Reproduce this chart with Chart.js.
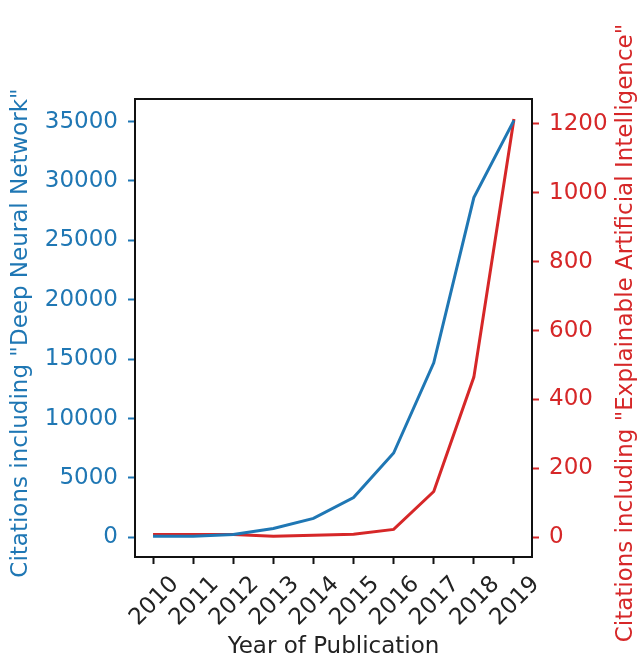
<!DOCTYPE html>
<html>
<head>
<meta charset="utf-8">
<script src="https://cdn.jsdelivr.net/npm/chart.js@4"></script>
<style>
  html, body { margin: 0; padding: 0; background: #fff; }
  #wrap { width: 639px; height: 663px; }
</style>
</head>
<body>
<div id="wrap"><canvas id="grafico"></canvas></div>
<script>
// dados
const years = [2010, 2011, 2012, 2013, 2014, 2015, 2016, 2017, 2018, 2019];
const dnnCitations = [100, 100, 250, 750, 1600, 3350, 7100, 14700, 28600, 35100];
const xaiCitations = [8, 8, 8, 3, 6, 9, 23, 133, 465, 1214];
const leftTicks = [0, 5000, 10000, 15000, 20000, 25000, 30000, 35000];
const rightTicks = [0, 200, 400, 600, 800, 1000, 1200];

const azul = '#1f77b4';
const vermelho = '#d62728';
const fonte = 'DejaVu Sans';
const tam = 23;

// moldura e titulos dos eixos y
const moldura = {
  id: 'moldura',
  afterDraw(chart) {
    const ctx = chart.ctx;
    const a = chart.chartArea;
    ctx.save();
    ctx.strokeStyle = '#111';
    ctx.lineWidth = 2;
    ctx.strokeRect(a.left, a.top, a.right - a.left, a.bottom - a.top);

    ctx.font = tam + 'px "' + fonte + '"';
    ctx.textAlign = 'center';
    ctx.textBaseline = 'middle';
    var meio = (a.top + a.bottom) / 2 + 5;

    ctx.fillStyle = azul;
    ctx.translate(21, meio);
    ctx.rotate(-Math.PI / 2);
    ctx.fillText('Citations including "Deep Neural Network"', 0, 0);
    ctx.restore();

    ctx.save();
    ctx.font = tam + 'px "' + fonte + '"';
    ctx.textAlign = 'center';
    ctx.textBaseline = 'middle';
    ctx.fillStyle = vermelho;
    ctx.translate(626, meio);
    ctx.rotate(-Math.PI / 2);
    ctx.fillText('Citations including "Explainable Artificial Intelligence"', 0, 0);
    ctx.restore();
  }
};

const ctx = document.getElementById('grafico');

new Chart(ctx, {
  type: 'line',
  data: {
    datasets: [{
      label: 'Deep Neural Network',
      data: years.map((y, i) => ({ x: y, y: dnnCitations[i] })),
      borderColor: azul,
      borderWidth: 3,
      pointRadius: 0,
      tension: 0,
      yAxisID: 'y'
    }, {
      label: 'Explainable Artificial Intelligence',
      data: years.map((y, i) => ({ x: y, y: xaiCitations[i] })),
      borderColor: vermelho,
      borderWidth: 3,
      pointRadius: 0,
      tension: 0,
      yAxisID: 'y2'
    }]
  },
  options: {
    responsive: true,
    maintainAspectRatio: false,
    animation: false,
    layout: { padding: { top: 99, left: 0, right: 0, bottom: 0 } },
    plugins: { legend: { display: false }, tooltip: { enabled: false } },
    scales: {
      x: {
        type: 'linear',
        min: 2009.55,
        max: 2019.45,
        afterBuildTicks: s => { s.ticks = years.map(v => ({ value: v })); },
        afterFit: s => { s.height = 106; },
        grid: { drawOnChartArea: false, tickLength: 7, tickWidth: 2, tickColor: '#111' },
        border: { display: false },
        ticks: {
          minRotation: 45,
          maxRotation: 45,
          labelOffset: 22,
          padding: 7,
          color: '#222',
          font: { family: fonte, size: tam },
          callback: v => String(v)
        },
        title: {
          display: true,
          text: 'Year of Publication',
          color: '#222',
          font: { family: fonte, size: tam },
          padding: { top: 0, bottom: 2 }
        }
      },
      y: {
        position: 'left',
        min: -1650,
        max: 36900,
        afterBuildTicks: s => { s.ticks = leftTicks.map(v => ({ value: v })); },
        afterFit: s => { s.width = 135; },
        grid: { drawOnChartArea: false, tickLength: 7, tickWidth: 2, tickColor: azul },
        border: { display: false },
        ticks: {
          padding: 10,
          color: azul,
          font: { family: fonte, size: tam },
          callback: v => String(v)
        }
      },
      y2: {
        position: 'right',
        min: -57,
        max: 1272,
        afterBuildTicks: s => { s.ticks = rightTicks.map(v => ({ value: v })); },
        afterFit: s => { s.width = 107; },
        grid: { drawOnChartArea: false, tickLength: 7, tickWidth: 2, tickColor: vermelho },
        border: { display: false },
        ticks: {
          padding: 10,
          color: vermelho,
          font: { family: fonte, size: tam },
          callback: v => String(v)
        }
      }
    }
  },
  plugins: [moldura]
});
</script>
</body>
</html>
